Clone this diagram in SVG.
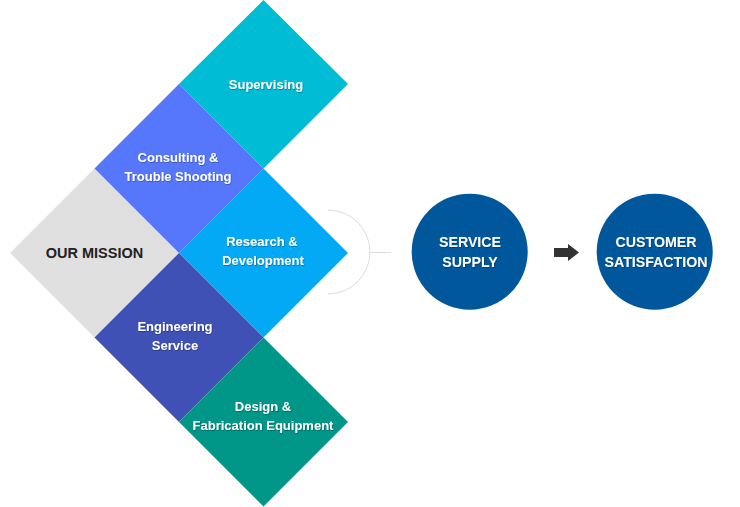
<svg xmlns="http://www.w3.org/2000/svg" width="740" height="507" viewBox="0 0 740 507">
<defs>
<filter id="sh" x="-10%" y="-30%" width="120%" height="160%">
<feDropShadow dx="0.6" dy="0.8" stdDeviation="0.5" flood-color="#000" flood-opacity="0.35"/>
</filter>
</defs>
<style>
text{font-family:"Liberation Sans",Arial,sans-serif;font-weight:bold;font-size:13px;text-anchor:middle}
.w{fill:#fff;filter:url(#sh)}
.c{fill:#01579b}
.b{font-size:14.2px}
</style>
<rect width="740" height="507" fill="#fff"/>
<g id="mission">
<polygon points="94.5,168.5 179,253 94.5,337.5 10,253" fill="#e0e0e0"/>
<text x="94.5" y="258" fill="#222" style="font-size:14.5px">OUR MISSION</text>
</g>
<g id="supervising">
<polygon points="263.5,0 348,84 263.5,168.5 179,84" fill="#00bcd4"/>
<text class="w" x="266" y="88.5">Supervising</text>
</g>
<g id="consulting">
<polygon points="179,84 263.5,168.5 179,253 94.5,168.5" fill="#5677fc"/>
<text class="w" x="178" y="162">Consulting &amp;</text>
<text class="w" x="178" y="181">Trouble Shooting</text>
</g>
<g id="research">
<polygon points="263.5,168.5 348,253 263.5,337.5 179,253" fill="#03a9f4"/>
<text class="w" x="262" y="246">Research &amp;</text>
<text class="w" x="263" y="265">Development</text>
</g>
<g id="engineering">
<polygon points="179,253 263.5,337.5 179,422 94.5,337.5" fill="#3f51b5"/>
<text class="w" x="175" y="331">Engineering</text>
<text class="w" x="175" y="350">Service</text>
</g>
<g id="design">
<polygon points="263.5,337.5 348,422 263.5,506.5 179,422" fill="#009688"/>
<text class="w" x="263" y="411">Design &amp;</text>
<text class="w" x="263" y="430">Fabrication Equipment</text>
</g>
<g id="connectors">
<path d="M328,210 A42,42 0 0 1 328,294" fill="none" stroke="#ddd" stroke-width="1"/>
<line x1="370" y1="252.5" x2="391" y2="252.5" stroke="#ddd" stroke-width="1"/>
<polygon points="554,248 568,248 568,244 579,252.5 568,261 568,257 554,257" fill="#333"/>
</g>
<g id="service">
<circle class="c" cx="469.7" cy="251.7" r="58"/>
<text class="w b" x="470" y="246.5">SERVICE</text>
<text class="w b" x="470" y="266.5">SUPPLY</text>
</g>
<g id="customer">
<circle class="c" cx="654.7" cy="251.7" r="58"/>
<text class="w b" x="656" y="246.5">CUSTOMER</text>
<text class="w b" x="656" y="266.5">SATISFACTION</text>
</g>
</svg>
